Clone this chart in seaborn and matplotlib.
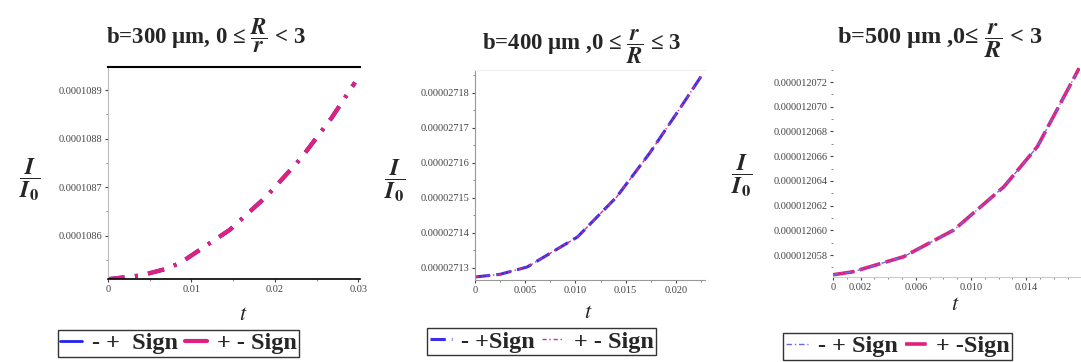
import numpy as np
import pandas as pd
import matplotlib
matplotlib.use("Agg")
import matplotlib.pyplot as plt
import seaborn as sns
from matplotlib.ticker import FixedLocator, FuncFormatter, AutoMinorLocator

# ---------------- data ----------------
# Panel 1: b = 300 um
t1 = [0.0, 0.004, 0.0069, 0.0087, 0.0146, 0.019, 0.0231, 0.0268, 0.0296]
v1 = [1.08510e-4, 1.08518e-4, 1.08531e-4, 1.08544e-4, 1.08612e-4,
      1.08681e-4, 1.08759e-4, 1.08843e-4, 1.08916e-4]
# Panel 2: b = 400 um
t2 = [0.0, 0.0025, 0.0052, 0.0102, 0.0141, 0.0174, 0.0203, 0.0226]
v2 = [2.712743e-5, 2.712820e-5, 2.713029e-5, 2.713886e-5, 2.715029e-5,
      2.716286e-5, 2.717514e-5, 2.718514e-5]
# Panel 3: b = 500 um
t3 = [0.0, 0.00148, 0.00511, 0.00875, 0.01239, 0.01481, 0.01784]
v3 = [1.205640e-5, 1.205665e-5, 1.205786e-5, 1.206002e-5, 1.206353e-5,
      1.206677e-5, 1.207312e-5]

titles = [r"b=300 μm, 0 ≤ $\dfrac{\boldsymbol{R}}{\boldsymbol{r}}$ < 3",
          r"b=400 μm ,0 ≤ $\dfrac{\boldsymbol{r}}{\boldsymbol{R}}$ ≤ 3",
          r"b=500 μm ,0≤ $\dfrac{\boldsymbol{r}}{\boldsymbol{R}}$ < 3"]
labels_mp = ["- +  Sign", "- +Sign", "- + Sign"]
labels_pm = ["+ - Sign", "+ - Sign", "+ -Sign"]

xticks1 = [0, 0.01, 0.02, 0.03]
xticklabels1 = ["0", "0.01", "0.02", "0.03"]
yticks1 = [1.086e-4, 1.087e-4, 1.088e-4, 1.089e-4]
xticks2 = [0, 0.005, 0.010, 0.015, 0.020]
xticklabels2 = ["0", "0.005", "0.010", "0.015", "0.020"]
yticks2 = [2.713e-5, 2.714e-5, 2.715e-5, 2.716e-5, 2.717e-5, 2.718e-5]
xticks3 = [0, 0.002, 0.006, 0.010, 0.014, 0.018]
xticklabels3 = ["0", "0.002", "0.006", "0.010", "0.014", "0.018"]
yticks3 = [1.2058e-5, 1.2060e-5, 1.2062e-5, 1.2064e-5, 1.2066e-5,
           1.2068e-5, 1.2070e-5, 1.2072e-5]

# ---------------- style ----------------
sns.set_theme(style="white")
plt.rcParams["font.family"] = ["Liberation Serif", "DejaVu Serif"]
plt.rcParams["mathtext.fontset"] = "stix"

BLUE = "#2020f0"
PINK = "#e0207a"

fig = plt.figure(figsize=(10.81, 3.62), dpi=100)
W, H = 1081, 362

def axes_px(l, r, t, b):
    return fig.add_axes([l / W, 1 - b / H, (r - l) / W, (b - t) / H])

ax1 = axes_px(108, 360, 67, 279)
ax2 = axes_px(475, 705, 70, 280)
ax3 = axes_px(833, 1080, 62, 277)

DASHDOT = (0, (4, 2.5, 0.7, 2.5))

# panel 1
d1 = pd.DataFrame({"t": t1, "v": v1})
sns.lineplot(data=d1, x="t", y="v", ax=ax1, color=BLUE, lw=3.0,
             linestyle=DASHDOT, label=labels_mp[0])
sns.lineplot(data=d1, x="t", y="v", ax=ax1, color=PINK, lw=3.0,
             linestyle=DASHDOT, label=labels_pm[0])
ax1.set_xlim(0, 0.0302)
ax1.set_ylim(1.085104e-4, 1.089479e-4)

# panel 2
d2 = pd.DataFrame({"t": t2, "v": v2})
sns.lineplot(data=d2, x="t", y="v", ax=ax2, color="#3a2ee8", lw=2.2,
             linestyle=(0, (5, 2)), label=labels_mp[1])
sns.lineplot(data=d2, x="t", y="v", ax=ax2, color="#d0308a", lw=1.0,
             linestyle=(0, (3, 2, 1, 2)), label=labels_pm[1])
ax2.set_xlim(0, 0.0229)
ax2.set_ylim(2.712657e-5, 2.718657e-5)

# panel 3
d3 = pd.DataFrame({"t": t3, "v": v3})
sns.lineplot(data=d3, x="t", y="v", ax=ax3, color=PINK, lw=2.6,
             linestyle=(0, (6, 1.5)), label=labels_pm[2])
sns.lineplot(data=d3, x="t", y="v", ax=ax3, color="#6a6ae8", lw=1.0,
             linestyle=(0, (4, 2, 1, 2)), label=labels_mp[2])
ax3.set_xlim(0, 0.0179)
ax3.set_ylim(1.205622e-5, 1.207362e-5)

fmt = [lambda v, p: "%.7f" % v, lambda v, p: "%.8f" % v, lambda v, p: "%.9f" % v]
xt = [(xticks1, xticklabels1), (xticks2, xticklabels2), (xticks3, xticklabels3)]
yt = [yticks1, yticks2, yticks3]
leg_pos = [(0.28, -0.24), (0.29, -0.23), (0.263, -0.26)]
title_pos = [(206, 36), (582, 47), (940, 41)]
title_size = [16.5, 16.5, 17.5]
ylab_pos = [(30, 180), (395, 181), (742, 176)]
xlab_pos = [(243, 316), (588, 314), (955, 306)]
LEGPROP = {"family": "Liberation Serif", "weight": "bold", "size": 17.5}

for i, ax in enumerate([ax1, ax2, ax3]):
    ax.set_facecolor("white")
    ax.grid(False)
    ax.set_xlabel("")
    ax.set_ylabel("")
    ax.xaxis.set_major_locator(FixedLocator(xt[i][0]))
    ax.set_xticklabels(xt[i][1])
    ax.yaxis.set_major_locator(FixedLocator(yt[i]))
    ax.yaxis.set_major_formatter(FuncFormatter(fmt[i]))
    ax.yaxis.get_offset_text().set_visible(False)
    ax.xaxis.set_minor_locator(AutoMinorLocator(2))
    ax.yaxis.set_minor_locator(AutoMinorLocator(2))
    ax.tick_params(axis="both", which="major", direction="out", length=2.5,
                   width=0.8, labelsize=7.5, colors="#444444", pad=1.5,
                   left=True, bottom=True)
    ax.tick_params(axis="both", which="minor", direction="out", length=1.5,
                   width=0.6, left=True, bottom=True, colors="#777777")
    ax.spines["right"].set_visible(False)
    h, l = ax.get_legend_handles_labels()
    if i == 2:
        h, l = [h[1], h[0]], [l[1], l[0]]
    leg = ax.legend(h, l, loc="upper center", bbox_to_anchor=leg_pos[i],
                    ncol=2, frameon=True, fancybox=False, edgecolor="black",
                    prop=LEGPROP, handlelength=0.9, handletextpad=0.4,
                    columnspacing=0.3, borderpad=0.1, borderaxespad=0)
    leg.get_frame().set_linewidth(1.0)
    if i == 0:
        leg.get_lines()[0].set_linestyle("-")
        leg.get_lines()[0].set_linewidth(2.0)
        leg.get_lines()[1].set_linestyle("-")
    tx, ty = title_pos[i]
    fig.text(tx / W, 1 - ty / H, titles[i], ha="center", va="center",
             fontsize=title_size[i], fontweight="bold")
    yx, yy = ylab_pos[i]
    fig.text(yx / W, 1 - yy / H,
             r"$\dfrac{\boldsymbol{I}}{\boldsymbol{I}_{\mathbf{0}}}$",
             ha="center", va="center", fontsize=17)
    xx, xy = xlab_pos[i]
    fig.text(xx / W, 1 - xy / H, r"$t$", ha="center", va="center", fontsize=16)

# spine styling per panel
ax1.spines["top"].set_color("black"); ax1.spines["top"].set_linewidth(1.5)
ax1.spines["left"].set_color("#bbbbbb"); ax1.spines["left"].set_linewidth(0.8)
ax1.spines["bottom"].set_color("black"); ax1.spines["bottom"].set_linewidth(1.2)
ax2.spines["top"].set_color("#eeeeee"); ax2.spines["top"].set_linewidth(0.8)
ax2.spines["left"].set_color("#999999"); ax2.spines["left"].set_linewidth(0.8)
ax2.spines["bottom"].set_color("#999999"); ax2.spines["bottom"].set_linewidth(0.8)
ax3.spines["top"].set_visible(False)
ax3.spines["left"].set_visible(False)
ax3.spines["bottom"].set_color("#cccccc"); ax3.spines["bottom"].set_linewidth(0.8)

fig.savefig("out.png", dpi=100, facecolor="white")
